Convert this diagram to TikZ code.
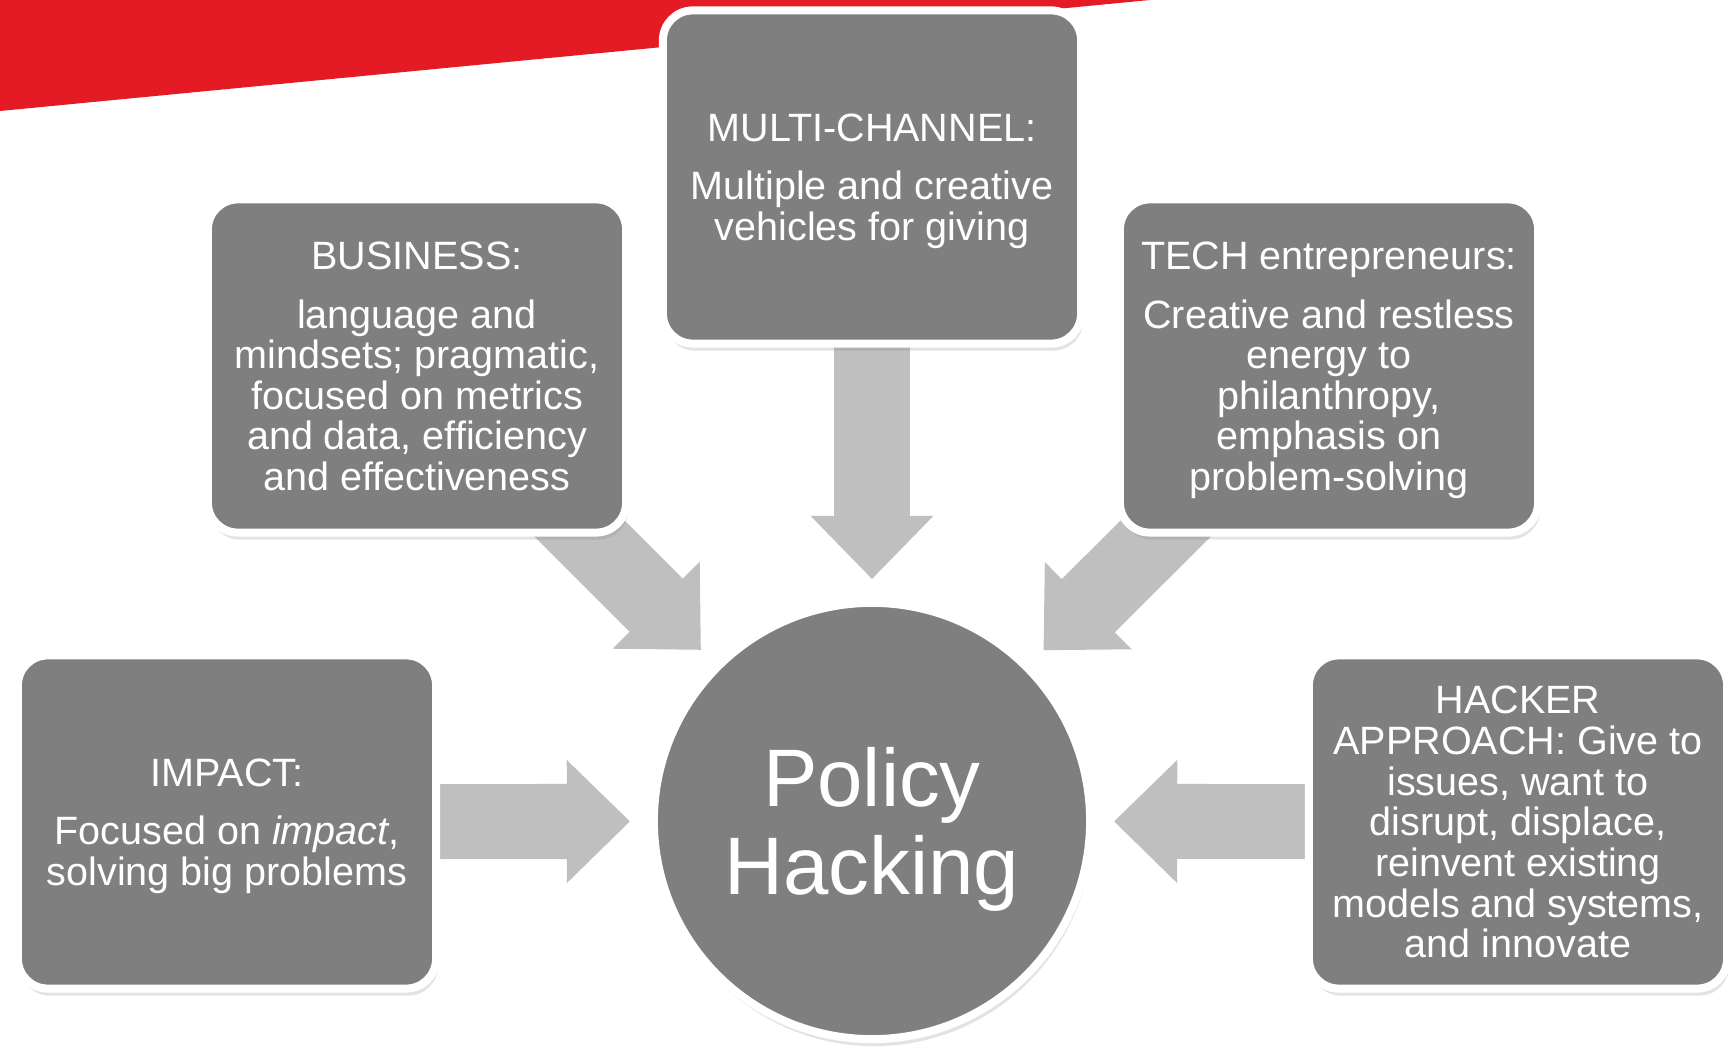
\documentclass[tikz,border=0pt]{standalone}
\usepackage{fontspec}
\setmainfont{Liberation Sans}
\usetikzlibrary{calc,arrows.meta,shadows,backgrounds}
\definecolor{bandred}{RGB}{228,26,36}
\definecolor{boxgray}{RGB}{127,127,127}
\definecolor{arrowgray}{RGB}{191,191,191}
\tikzset{
  card/.style={rectangle,rounded corners=0.3cm,fill=boxgray,draw=white,line width=0.08cm,
    minimum width=4.18cm,minimum height=3.33cm,inner sep=0pt,align=center,text=white,
    text depth=0pt,font=\fontsize{11.24pt}{11.55pt}\selectfont,
    drop shadow={shadow xshift=0.6pt,shadow yshift=-2pt,opacity=0.22}},
  disc/.style={circle,fill=boxgray,draw=white,line width=0.08cm,minimum size=4.36cm,
    inner sep=0pt,align=center,text=white,text depth=0pt,
    font=\fontsize{23.2pt}{25.2pt}\selectfont,
    drop shadow={shadow xshift=0.6pt,shadow yshift=-2pt,opacity=0.22}},
  flowarrow/.style={arrowgray,line width=0.75cm,
    -{Triangle[width=1.23cm,length=0.63cm,line width=0pt]}}
}
\begin{document}
\begin{tikzpicture}[x=0.01cm,y=-0.01cm]
\useasboundingbox (0,0) rectangle (1736,1049);
\fill[bandred] (0,0)--(1150,0)--(0,111)--cycle;
\node[card] (multi) at(872,177) {MULTI-CHANNEL:\\[5.2pt]Multiple and creative\\vehicles for giving};
\node[card] (biz) at(417,366) {BUSINESS:\\[5.2pt]language and\\mindsets; pragmatic,\\focused on metrics\\and data, efficiency\\and effectiveness};
\node[card] (tech) at(1329,366) {TECH entrepreneurs:\\[5.2pt]Creative and restless\\energy to\\philanthropy,\\emphasis on\\problem-solving};
\node[card] (impact) at(227,822) {IMPACT:\\[5.2pt]Focused on \textit{impact},\\solving big problems};
\node[card] (hacker) at(1518,822) {HACKER\\APPROACH: Give to\\issues, want to\\disrupt, displace,\\reinvent existing\\models and systems,\\and innovate};
\node[disc] (hub) at(872,821) {Policy\\Hacking};
\begin{scope}[on background layer]
\fill[white] (0,0) rectangle (1736,1049);
\foreach \src in {multi,biz,tech,impact,hacker}
\draw[flowarrow] (\src.center) -- ($(hub.center)!2.42cm!(\src.center)$);
\end{scope}
\end{tikzpicture}
\end{document}
